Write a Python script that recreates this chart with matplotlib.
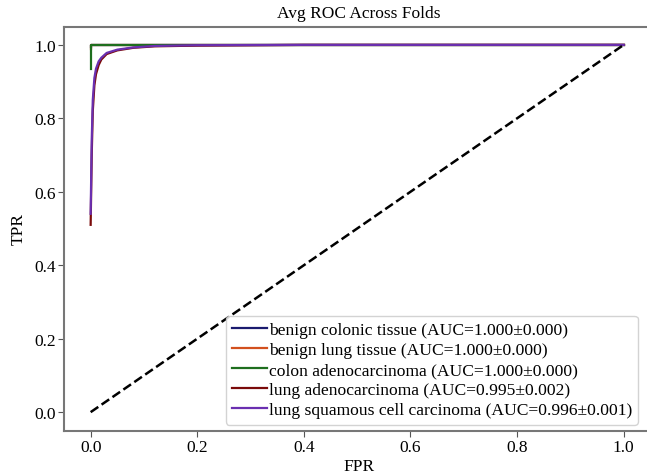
import numpy as np
import matplotlib.pyplot as plt

plt.rcParams['font.family'] = ['Liberation Serif', 'DejaVu Serif']

classes = ['benign colonic tissue', 'benign lung tissue', 'colon adenocarcinoma',
           'lung adenocarcinoma', 'lung squamous cell carcinoma']
auc_mean = [1.000, 1.000, 1.000, 0.995, 0.996]
auc_std = [0.000, 0.000, 0.000, 0.002, 0.001]
colors = ['#1a1a6e', '#d2501e', '#1e6e1e', '#7a0a0a', '#6a2fb0']

# averaged ROC curves
fpr_perfect = [0.0, 0.0, 0.01, 1.0]
tpr_colonic = [0.995, 1.0, 1.0, 1.0]
tpr_lung_benign = [0.99, 1.0, 1.0, 1.0]
tpr_colon_ad = [0.935, 1.0, 1.0, 1.0]
fpr_lung_ad = [0.0, 0.002, 0.004, 0.007, 0.01, 0.015, 0.02, 0.03, 0.05, 0.08, 0.12, 0.2, 0.4, 1.0]
tpr_lung_ad = [0.51, 0.70, 0.82, 0.89, 0.92, 0.945, 0.96, 0.975, 0.985, 0.992, 0.996, 0.998, 1.0, 1.0]
fpr_lung_sq = [0.0, 0.002, 0.004, 0.007, 0.01, 0.015, 0.02, 0.03, 0.05, 0.08, 0.12, 0.2, 0.4, 1.0]
tpr_lung_sq = [0.54, 0.74, 0.85, 0.91, 0.935, 0.955, 0.965, 0.978, 0.987, 0.993, 0.997, 0.999, 1.0, 1.0]

fig = plt.figure(figsize=(6.47, 4.77), dpi=100)
ax = fig.add_axes([64 / 647, 1 - 431.5 / 477, 590 / 647, 404 / 477])

curves = [(fpr_perfect, tpr_colonic), (fpr_perfect, tpr_lung_benign), (fpr_perfect, tpr_colon_ad),
          (fpr_lung_ad, tpr_lung_ad), (fpr_lung_sq, tpr_lung_sq)]
for i, (fx, ty) in enumerate(curves):
    ax.plot(fx, ty, color=colors[i], lw=1.6,
            label=f'{classes[i]} (AUC={auc_mean[i]:.3f}±{auc_std[i]:.3f})')

ax.plot([0, 1], [0, 1], 'k--', lw=1.8)

ax.set_xlim(-0.05, 1.05 * 590 / 586 - 0.05 * 4 / 586)
ax.set_ylim(-0.05, 1.05)
ax.set_xlabel('FPR', fontsize=12.5, labelpad=2)
ax.set_ylabel('TPR', fontsize=12.5, labelpad=5)
ax.set_title('Avg ROC Across Folds', fontsize=12.5, pad=7)
ax.tick_params(labelsize=12.5, length=4, color='#555555', pad=2)
ax.set_xticks([0, 0.2, 0.4, 0.6, 0.8, 1.0])
for s in ax.spines.values():
    s.set_color('#777777')
    s.set_linewidth(1.5)
ax.spines['right'].set_visible(False)

ax.legend(loc='lower right', fontsize=12.6, handlelength=2.0, handletextpad=0.1,
          borderpad=0.35, labelspacing=0.22, fancybox=True, framealpha=0.85,
          bbox_to_anchor=((638 - 64) / 590, 6 / 404), borderaxespad=0)

fig.savefig('out.png', dpi=100)
